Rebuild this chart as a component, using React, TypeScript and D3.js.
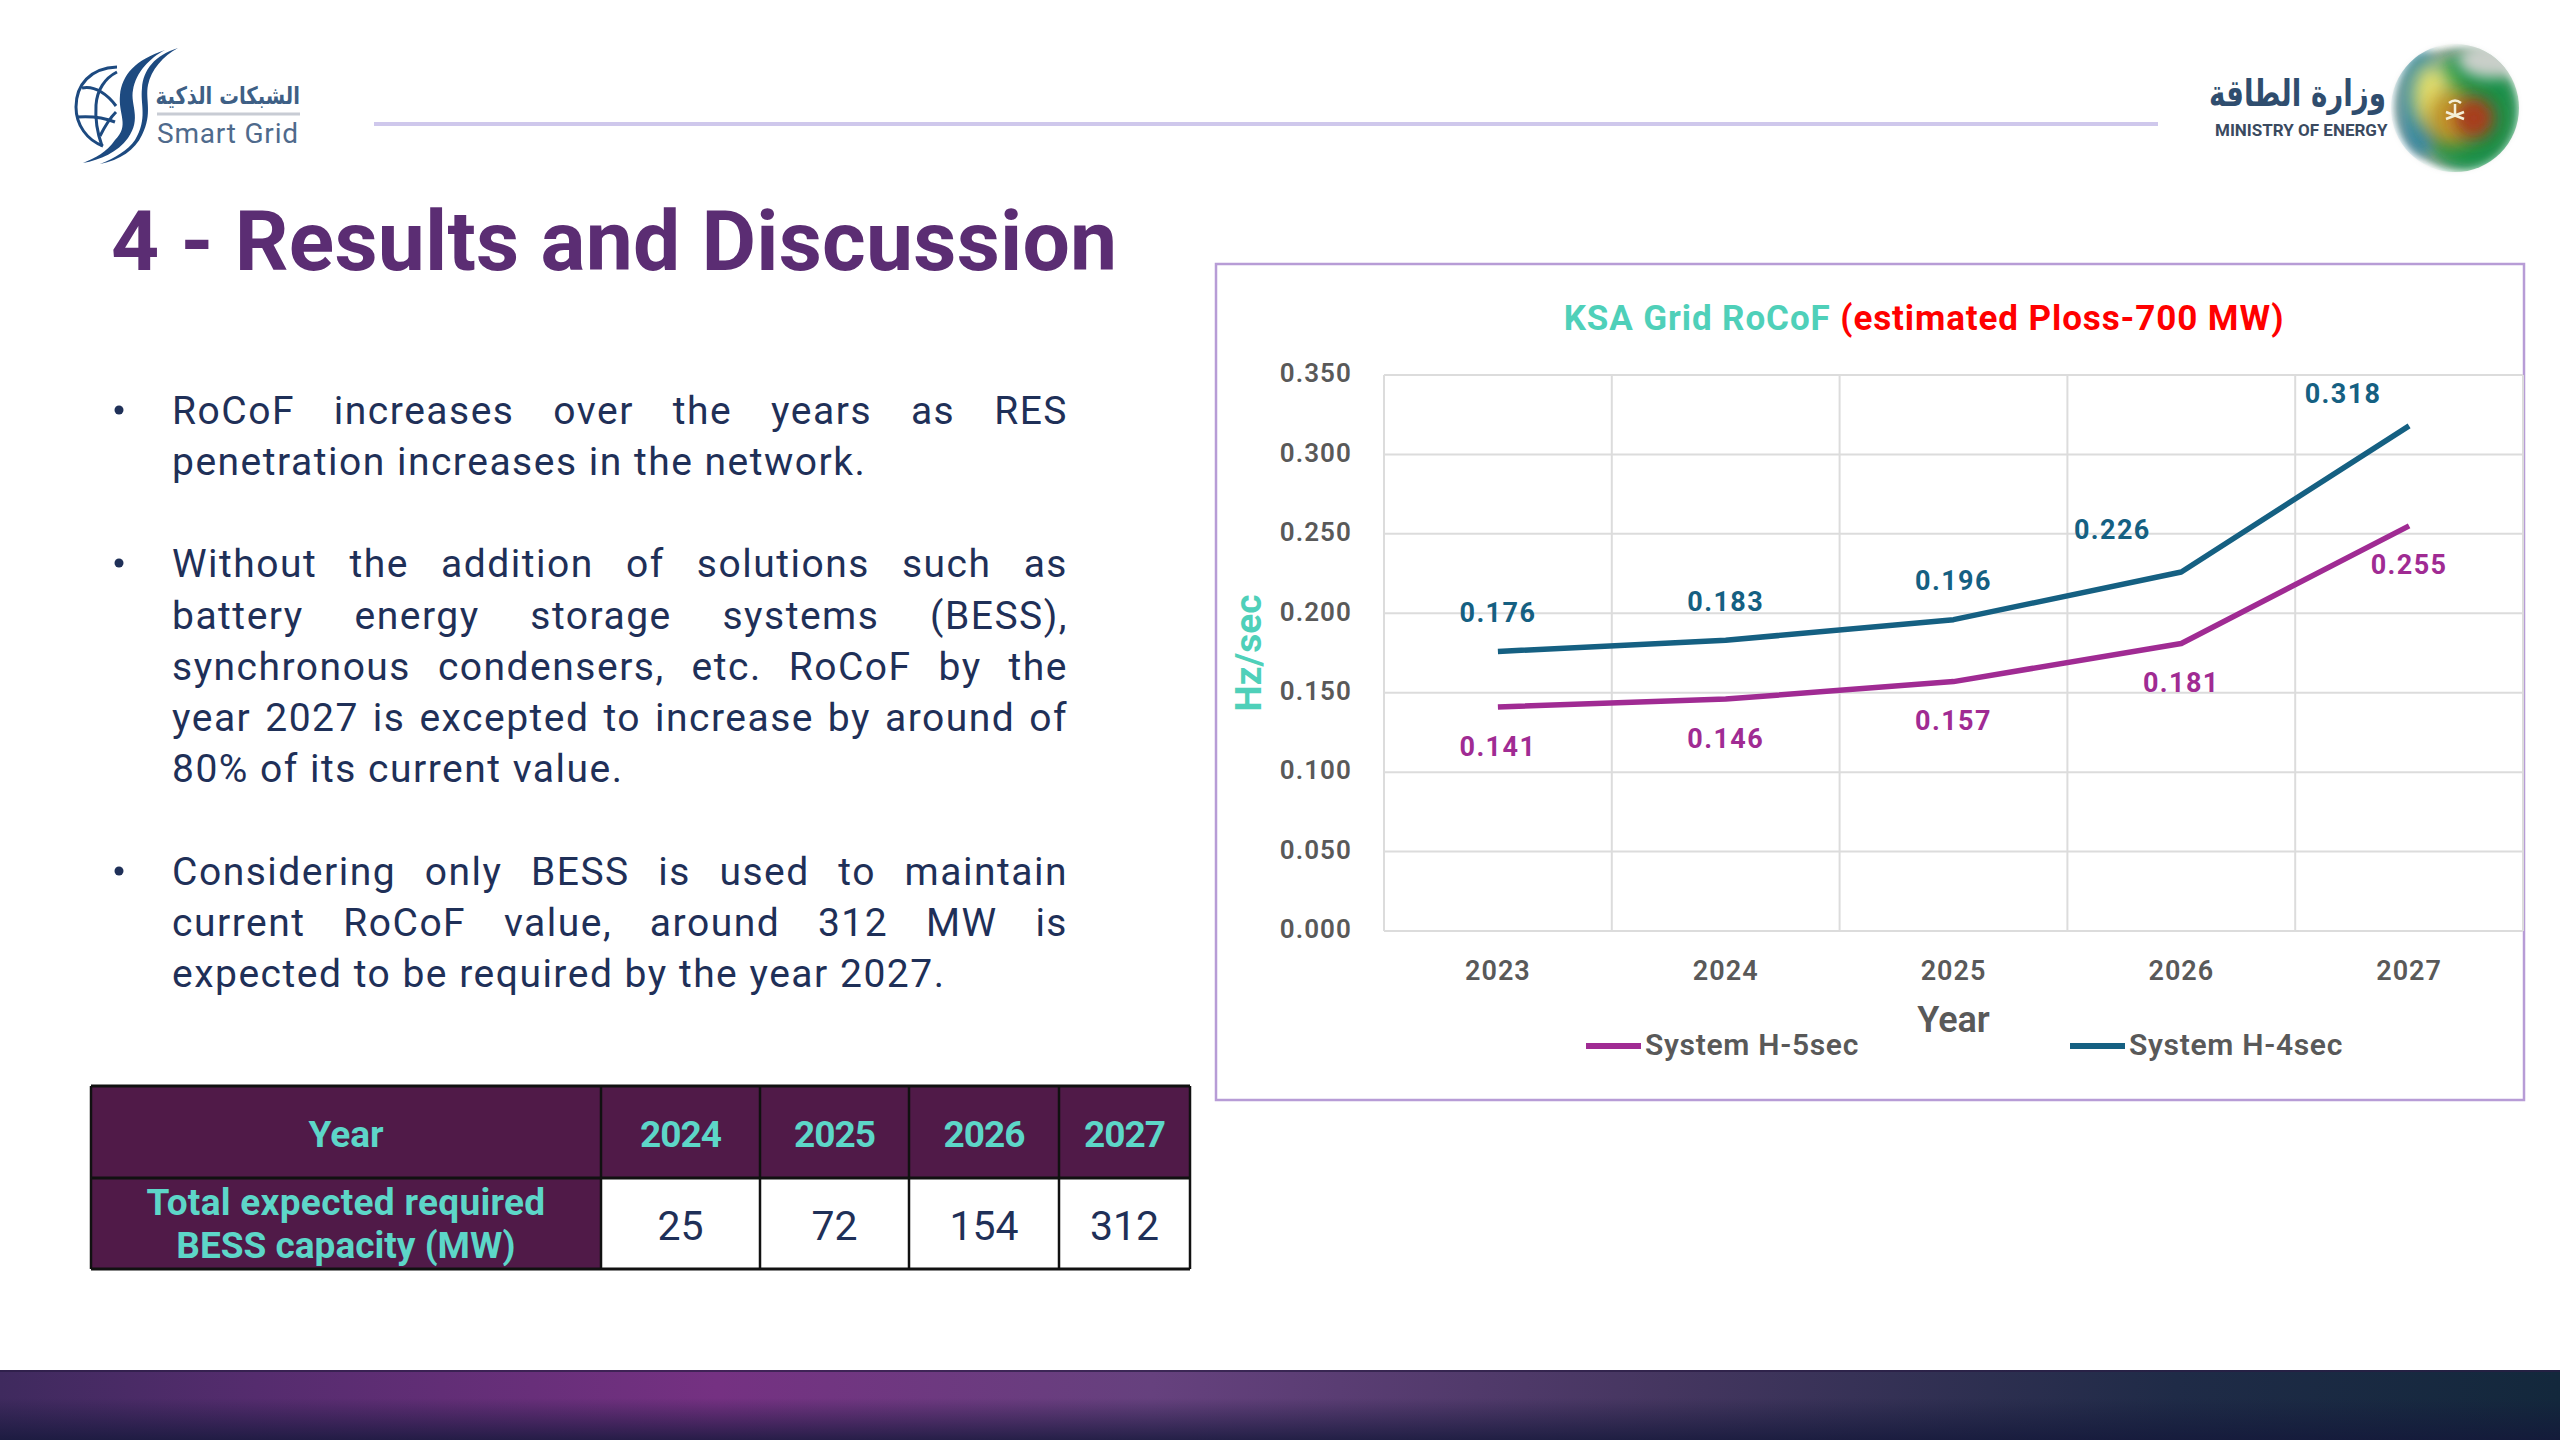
import { useEffect, useRef } from 'react';
import * as d3 from 'd3';

// chart values
const years = ['2023', '2024', '2025', '2026', '2027'];
const systemH5 = [0.141, 0.146, 0.157, 0.181, 0.255];
const systemH4 = [0.176, 0.183, 0.196, 0.226, 0.318];
const yTicks = [0, 0.05, 0.1, 0.15, 0.2, 0.25, 0.3, 0.35];

// table values
const tableYears = ['2024', '2025', '2026', '2027'];
const tableCapacity = ['25', '72', '154', '312'];

// slide text, true = justified line
const bulletLines: [string, boolean][] = [
  ['RoCoF increases over the years as RES', true],
  ['penetration increases in the network.', false],
  ['Without the addition of solutions such as', true],
  ['battery energy storage systems (BESS),', true],
  ['synchronous condensers, etc. RoCoF by the', true],
  ['year 2027 is excepted to increase by around of', true],
  ['80% of its current value.', false],
  ['Considering only BESS is used to maintain', true],
  ['current RoCoF value, around 312 MW is', true],
  ['expected to be required by the year 2027.', false],
];

const FONT = 'Roboto, sans-serif';
const BODY = '#1f3058';
const TEAL = '#4fd0b9';
const GREY = '#595959';
const H5_COLOR = '#a02b93';
const H4_COLOR = '#156082';

export default function App() {
  const svgRef = useRef<SVGSVGElement>(null);

  useEffect(() => {
    if (!svgRef.current) return;
    const svg = d3.select(svgRef.current);
    svg.selectAll('*').remove();

    const defs = svg.append('defs');
    [3, 7, 10].forEach(b => {
      defs.append('filter').attr('id', `blur${b}`)
        .attr('x', '-50%').attr('y', '-50%').attr('width', '200%').attr('height', '200%')
        .append('feGaussianBlur').attr('stdDeviation', b);
    });

    // footer gradients
    const footH = defs.append('linearGradient').attr('id', 'footH');
    ([[0, '#3f2a5e'], [0.1, '#552c6e'], [0.28, '#753182'], [0.45, '#66417e'], [0.65, '#453660'], [0.85, '#1f2b47'], [1, '#13283c']] as [number, string][])
      .forEach(([o, c]) => footH.append('stop').attr('offset', o).attr('stop-color', c));
    const footV = defs.append('linearGradient').attr('id', 'footV').attr('x2', 0).attr('y2', 1);
    footV.append('stop').attr('offset', 0.4).attr('stop-color', '#14183a').attr('stop-opacity', 0);
    footV.append('stop').attr('offset', 1).attr('stop-color', '#14183a').attr('stop-opacity', 0.8);

    svg.append('rect').attr('width', 2560).attr('height', 1440).attr('fill', '#fff');

    // header
    svg.append('line').attr('x1', 374).attr('x2', 2158).attr('y1', 124).attr('y2', 124)
      .attr('stroke', '#cfc8ec').attr('stroke-width', 4);
    drawSmartGridLogo(svg);
    drawMinistryLogo(svg);

    svg.append('text').attr('x', 111).attr('y', 270)
      .attr('font-family', FONT).attr('font-weight', 700).attr('font-size', 84)
      .attr('letter-spacing', 0.2).attr('fill', '#5b2d73')
      .text('4 - Results and Discussion');

    // bullets
    const baselines = [424, 475, 577, 629, 680, 731, 782, 885, 936, 987];
    const bulletY = [410, 563, 871];
    bulletY.forEach(y => svg.append('circle').attr('cx', 119).attr('cy', y).attr('r', 4.5).attr('fill', BODY));
    bulletLines.forEach(([line, justify], i) => {
      const t = svg.append('text').attr('x', 172).attr('y', baselines[i])
        .attr('font-family', FONT).attr('font-size', 39).attr('fill', BODY)
        .attr('letter-spacing', 1.5).text(line);
      if (justify) {
        const gaps = line.split(' ').length - 1;
        const len = (t.node() as SVGTextElement).getComputedTextLength();
        t.attr('word-spacing', (896 - len) / gaps);
      }
    });

    drawTable(svg);
    drawChart(svg);

    // footer
    svg.append('rect').attr('y', 1370).attr('width', 2560).attr('height', 70).attr('fill', 'url(#footH)');
    svg.append('rect').attr('y', 1370).attr('width', 2560).attr('height', 70).attr('fill', 'url(#footV)');
    svg.append('rect').attr('y', 1370).attr('width', 2560).attr('height', 2).attr('fill', '#2a1d45').attr('opacity', 0.7);
  }, []);

  return (
    <svg
      ref={svgRef}
      width={2560}
      height={1440}
      style={{ position: 'absolute', left: 0, top: 0, display: 'block' }}
    />
  );
}

type Sel = d3.Selection<SVGSVGElement, unknown, null, undefined>;

function drawChart(svg: Sel) {
  const left = 1384, right = 2523, top = 375, bottom = 931;

  svg.append('rect').attr('x', 1216).attr('y', 264).attr('width', 1308).attr('height', 836)
    .attr('fill', '#fff').attr('stroke', '#b79cd6').attr('stroke-width', 2.5);

  const x = d3.scaleBand<string>().domain(years).range([left, right]);
  const y = d3.scaleLinear().domain([0, 0.35]).range([bottom, top]);
  const cx = (d: string) => (x(d) || 0) + x.bandwidth() / 2;
  const g = svg.append('g');

  // grid
  g.selectAll('.h-grid').data(yTicks).enter().append('line')
    .attr('x1', left).attr('x2', right)
    .attr('y1', d => y(d)).attr('y2', d => y(d))
    .attr('stroke', '#dcdcdc').attr('stroke-width', 2);
  g.selectAll('.v-grid').data(years.concat('end')).enter().append('line')
    .attr('x1', (d, i) => left + i * x.bandwidth()).attr('x2', (d, i) => left + i * x.bandwidth())
    .attr('y1', top).attr('y2', bottom)
    .attr('stroke', '#dcdcdc').attr('stroke-width', 2);

  // axes
  const yAxis = g.append('g').attr('transform', `translate(${left},0)`)
    .call(d3.axisLeft(y).tickValues(yTicks).tickSize(0).tickPadding(32).tickFormat(d => (d as number).toFixed(3)));
  yAxis.select('.domain').remove();
  yAxis.selectAll('text')
    .attr('font-family', FONT).attr('font-weight', 600).attr('font-size', 26).attr('fill', GREY)
    .attr('letter-spacing', 1.1).attr('dy', '0.26em');

  const xAxis = g.append('g').attr('transform', `translate(0,${bottom})`)
    .call(d3.axisBottom(x).tickSize(0).tickPadding(30));
  xAxis.select('.domain').remove();
  xAxis.selectAll('text')
    .attr('font-family', FONT).attr('font-weight', 600).attr('font-size', 27).attr('fill', GREY)
    .attr('letter-spacing', 1);

  // lines
  const series = [
    { name: 'System H-5sec', values: systemH5, color: H5_COLOR, dy: 39 },
    { name: 'System H-4sec', values: systemH4, color: H4_COLOR, dy: -39 },
  ];
  const line = d3.line<number>().x((d, i) => cx(years[i])).y(d => y(d));
  // labels that sit left of their point
  const dxFor = (name: string, i: number) => (name === 'System H-4sec' && i === 3 ? -69 : name === 'System H-4sec' && i === 4 ? -66 : 0);
  const dyFor = (name: string, i: number, dy: number) => (name === 'System H-4sec' && i === 4 ? -32 : name === 'System H-4sec' && i === 3 ? -42 : dy);

  series.forEach(s => {
    g.append('path').attr('d', line(s.values)).attr('fill', 'none')
      .attr('stroke', s.color).attr('stroke-width', 5.5).attr('stroke-linejoin', 'round');
    g.selectAll(`.lbl-${s.dy}`).data(s.values).enter().append('text')
      .attr('x', (d, i) => cx(years[i]) + dxFor(s.name, i))
      .attr('y', (d, i) => y(d) + dyFor(s.name, i, s.dy) + 9.5)
      .attr('text-anchor', 'middle')
      .attr('font-family', FONT).attr('font-weight', 700).attr('font-size', 27)
      .attr('letter-spacing', 1.4).attr('fill', s.color)
      .text(d => d.toFixed(3));
  });

  // title
  const title = svg.append('text').attr('x', 1924).attr('y', 329.5).attr('text-anchor', 'middle')
    .attr('font-family', FONT).attr('font-weight', 700).attr('font-size', 35).attr('letter-spacing', 0.9);
  title.append('tspan').attr('fill', TEAL).text('KSA Grid RoCoF ');
  title.append('tspan').attr('fill', '#ff0000').text('(estimated Ploss-700 MW)');

  svg.append('text').attr('transform', 'translate(1261,653) rotate(-90)').attr('text-anchor', 'middle')
    .attr('font-family', FONT).attr('font-weight', 700).attr('font-size', 37).attr('fill', TEAL)
    .text('Hz/sec');

  svg.append('text').attr('x', cx('2025')).attr('y', 1032).attr('text-anchor', 'middle')
    .attr('font-family', FONT).attr('font-weight', 600).attr('font-size', 36).attr('fill', GREY)
    .text('Year');

  // legend
  const legendX = [1586, 2070];
  series.forEach((s, i) => {
    svg.append('line').attr('x1', legendX[i]).attr('x2', legendX[i] + 55).attr('y1', 1046).attr('y2', 1046)
      .attr('stroke', s.color).attr('stroke-width', 6);
    svg.append('text').attr('x', legendX[i] + 59).attr('y', 1055)
      .attr('font-family', FONT).attr('font-weight', 600).attr('font-size', 30).attr('letter-spacing', 0.7).attr('fill', GREY)
      .text(s.name);
  });
}

function drawTable(svg: Sel) {
  const edges = [91, 601, 760, 909, 1059, 1190];
  const rows = [1086, 1178, 1269];
  const dark = '#501a48';
  const cellText = '#5dd6c8';
  const g = svg.append('g');

  g.append('rect').attr('x', edges[0]).attr('y', rows[0]).attr('width', edges[5] - edges[0]).attr('height', rows[1] - rows[0]).attr('fill', dark);
  g.append('rect').attr('x', edges[0]).attr('y', rows[1]).attr('width', edges[1] - edges[0]).attr('height', rows[2] - rows[1]).attr('fill', dark);

  const headerMid = (edges[0] + edges[1]) / 2;
  const mid = (i: number) => (edges[i + 1] + edges[i + 2]) / 2;
  const bold = (s: d3.Selection<SVGTextElement, any, any, any>) =>
    s.attr('font-family', FONT).attr('font-weight', 700).attr('font-size', 37).attr('fill', cellText).attr('text-anchor', 'middle');

  g.append('text').attr('x', headerMid).attr('y', 1147).call(bold).text('Year');
  g.append('text').attr('x', headerMid).attr('y', 1215).attr('letter-spacing', 0.3).call(bold).text('Total expected required');
  g.append('text').attr('x', headerMid).attr('y', 1258).call(bold).text('BESS capacity (MW)');

  g.selectAll('.hy').data(tableYears).enter().append('text')
    .attr('x', (d, i) => mid(i)).attr('y', 1147).attr('letter-spacing', -1).call(bold).text(d => d);
  g.selectAll('.cap').data(tableCapacity).enter().append('text')
    .attr('x', (d, i) => mid(i)).attr('y', 1240).attr('text-anchor', 'middle')
    .attr('font-family', FONT).attr('font-size', 41).attr('fill', BODY).text(d => d);

  // borders
  edges.forEach(e => g.append('line').attr('x1', e).attr('x2', e).attr('y1', rows[0]).attr('y2', rows[2]).attr('stroke', '#111').attr('stroke-width', 2.5));
  rows.forEach(r => g.append('line').attr('x1', edges[0]).attr('x2', edges[5]).attr('y1', r).attr('y2', r).attr('stroke', '#111').attr('stroke-width', 3));
}

function drawSmartGridLogo(svg: Sel) {
  const navy = '#1d4a80';
  const g = svg.append('g');
  const strokes = [
    'M117,67 C90,68 76,85 76,107 C76,125 87,140 103,146',
    'M82,88 C95,85 108,95 116,106',
    'M117,72 C105,78 97,90 96,105 C95,120 98,135 102,146',
    'M77,117 C90,116 105,118 115,122',
    'M116,112 C110,118 104,128 100,136',
  ];
  strokes.forEach(d => g.append('path').attr('d', d).attr('fill', 'none').attr('stroke', navy).attr('stroke-width', 3));
  const swooshes = [
    'M165,50 C135,60 122,75 120,95 C118,115 130,125 115,140 C107,152 95,158 83,163 C100,160 118,152 128,138 C142,118 130,105 133,90 C136,72 150,58 165,50 Z',
    'M178,48 C155,55 143,70 142,88 C140,105 148,118 135,140 C128,150 115,158 100,164 C120,160 135,150 142,135 C153,113 145,100 148,85 C151,70 163,56 178,48 Z',
  ];
  swooshes.forEach(d => g.append('path').attr('d', d).attr('fill', navy));

  g.append('text').attr('transform', 'translate(300,104) scale(0.82,1)').attr('text-anchor', 'end')
    .attr('font-family', '"DejaVu Sans", sans-serif').attr('font-weight', 700).attr('font-size', 24).attr('fill', '#3e5f85')
    .text('الشبكات الذكية');
  g.append('line').attr('x1', 157).attr('x2', 300).attr('y1', 114).attr('y2', 114).attr('stroke', '#c8ccd4').attr('stroke-width', 3);
  g.append('text').attr('x', 157).attr('y', 143)
    .attr('font-family', FONT).attr('font-size', 28).attr('letter-spacing', 0.8).attr('fill', '#4f6a8c')
    .text('Smart Grid');
}

function drawMinistryLogo(svg: Sel) {
  const g = svg.append('g');
  g.append('text').attr('transform', 'translate(2386,106) scale(0.75,1)').attr('text-anchor', 'end')
    .attr('font-family', '"DejaVu Sans", sans-serif').attr('font-weight', 700).attr('font-size', 37).attr('fill', '#2f4d6e')
    .text('وزارة الطاقة');
  g.append('text').attr('x', 2215).attr('y', 136)
    .attr('font-family', FONT).attr('font-weight', 700).attr('font-size', 17).attr('fill', '#3a4a5f')
    .text('MINISTRY OF ENERGY');

  const cx = 2455, cy = 108;
  const defs = svg.select('defs');
  const clip = defs.append('clipPath').attr('id', 'globe');
  clip.append('circle').attr('cx', cx).attr('cy', cy).attr('r', 64);

  g.append('circle').attr('cx', cx).attr('cy', cy).attr('r', 60).attr('fill', '#9aa79e').attr('filter', 'url(#blur3)');
  const blobs = g.append('g').attr('clip-path', 'url(#globe)');
  const shapes: [number, number, number, number, string, number][] = [
    [2468, 112, 50, 58, '#12924a', 7],
    [2422, 102, 22, 52, '#2d86a8', 7],
    [2432, 94, 20, 32, '#e6e26e', 10],
    [2450, 118, 24, 28, '#c59a2a', 10],
    [2474, 118, 20, 20, '#a83c1a', 10],
    [2474, 118, 12, 12, '#a83c1a', 7],
  ];
  shapes.forEach(([x, y, rx, ry, c, b]) => {
    blobs.append('ellipse').attr('cx', x).attr('cy', y).attr('rx', rx).attr('ry', ry)
      .attr('fill', c).attr('filter', `url(#blur${b})`);
  });
  blobs.append('ellipse').attr('cx', 2490).attr('cy', 60).attr('rx', 32).attr('ry', 18)
    .attr('fill', '#c9cfc9').attr('filter', 'url(#blur7)');

  // palm and swords
  const em = g.append('g').attr('stroke', '#f4efd8').attr('stroke-width', 2.5).attr('fill', 'none');
  em.append('path').attr('d', 'M2455,104 L2455,116 M2449,103 Q2455,98 2461,103');
  em.append('path').attr('d', 'M2446,119 L2464,112 M2464,119 L2446,112');
}
